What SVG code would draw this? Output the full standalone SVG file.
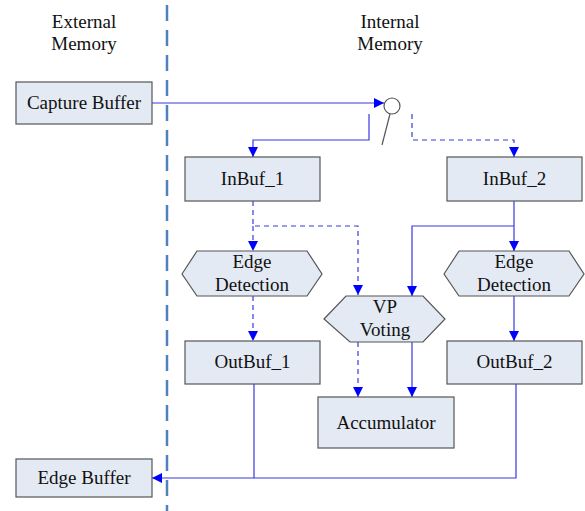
<svg xmlns="http://www.w3.org/2000/svg" width="585" height="511" viewBox="0 0 585 511">
<defs>
<marker id="arr" viewBox="0 0 10 10" refX="10" refY="5" markerWidth="11" markerHeight="10" markerUnits="userSpaceOnUse" orient="auto">
<path d="M0,0 L10,5 L0,10 z" fill="#0000ff"/>
</marker>
</defs>
<style>
.box{fill:#e4eaf4;stroke:#555;stroke-width:1.2}
.t{font-family:"Liberation Serif","Times New Roman",serif;font-size:19px;fill:#111;text-anchor:middle}
.c{fill:none;stroke:#3a3ae0;stroke-width:1.2}
.d{stroke-dasharray:5 4}
.a{marker-end:url(#arr)}
</style>
<rect width="585" height="511" fill="#fff"/>
<line x1="167" y1="5" x2="167" y2="511" stroke="#4f81bd" stroke-width="2.5" stroke-dasharray="16 9"/>
<g id="labels">
<text class="t" x="84" y="28">External</text>
<text class="t" x="84" y="50">Memory</text>
<text class="t" x="390" y="28">Internal</text>
<text class="t" x="390" y="50">Memory</text>
</g>
<g id="connectors">
<path class="c a" d="M152,103 H384"/>
<path class="c a" d="M369,114 V140 H253 V157"/>
<path class="c d a" d="M412,114 V140 H514 V157"/>
<path class="c d a" d="M253,201 V226 H358 V295"/>
<path class="c d a" d="M253,226 V251"/>
<path class="c a" d="M514,201 V251"/>
<path class="c a" d="M514,226 H412 V296"/>
<path class="c d a" d="M253,296 V341"/>
<path class="c a" d="M514,296 V341"/>
<path class="c d a" d="M358,342 V397"/>
<path class="c a" d="M412,342 V397"/>
<path class="c" d="M254,384 V478"/>
<path class="c a" d="M516,384 V478 H152"/>
</g>
<g id="switch">
<circle cx="392" cy="106" r="8" fill="#fff" stroke="#555" stroke-width="1.2"/>
<line x1="390" y1="114" x2="382" y2="145" stroke="#555" stroke-width="1.2"/>
</g>
<g id="capture"><rect class="box" x="16" y="82" width="136" height="42"/><text class="t" x="84" y="109">Capture Buffer</text></g>
<g id="inbuf1"><rect class="box" x="185" y="157" width="135" height="44"/><text class="t" x="252.5" y="185">InBuf_1</text></g>
<g id="inbuf2"><rect class="box" x="447" y="157" width="135" height="44"/><text class="t" x="514.5" y="185">InBuf_2</text></g>
<g id="edge1"><polygon class="box" points="182,274 197,251 307,251 322,274 307,296 197,296"/><text class="t" x="252" y="268">Edge</text><text class="t" x="252" y="291">Detection</text></g>
<g id="edge2"><polygon class="box" points="444,274 459,251 569,251 584,274 569,296 459,296"/><text class="t" x="514" y="268">Edge</text><text class="t" x="514" y="291">Detection</text></g>
<g id="vp"><polygon class="box" points="324,319 346,296 423,296 445,319 423,342 350,342"/><text class="t" x="385" y="313">VP</text><text class="t" x="385" y="336">Voting</text></g>
<g id="outbuf1"><rect class="box" x="185" y="341" width="135" height="43"/><text class="t" x="252.5" y="368">OutBuf_1</text></g>
<g id="outbuf2"><rect class="box" x="447" y="341" width="135" height="43"/><text class="t" x="514.5" y="368">OutBuf_2</text></g>
<g id="acc"><rect class="box" x="318" y="397" width="136" height="51"/><text class="t" x="386" y="429">Accumulator</text></g>
<g id="edgebuf"><rect class="box" x="16" y="459" width="136" height="38"/><text class="t" x="84" y="484">Edge Buffer</text></g>
</svg>
